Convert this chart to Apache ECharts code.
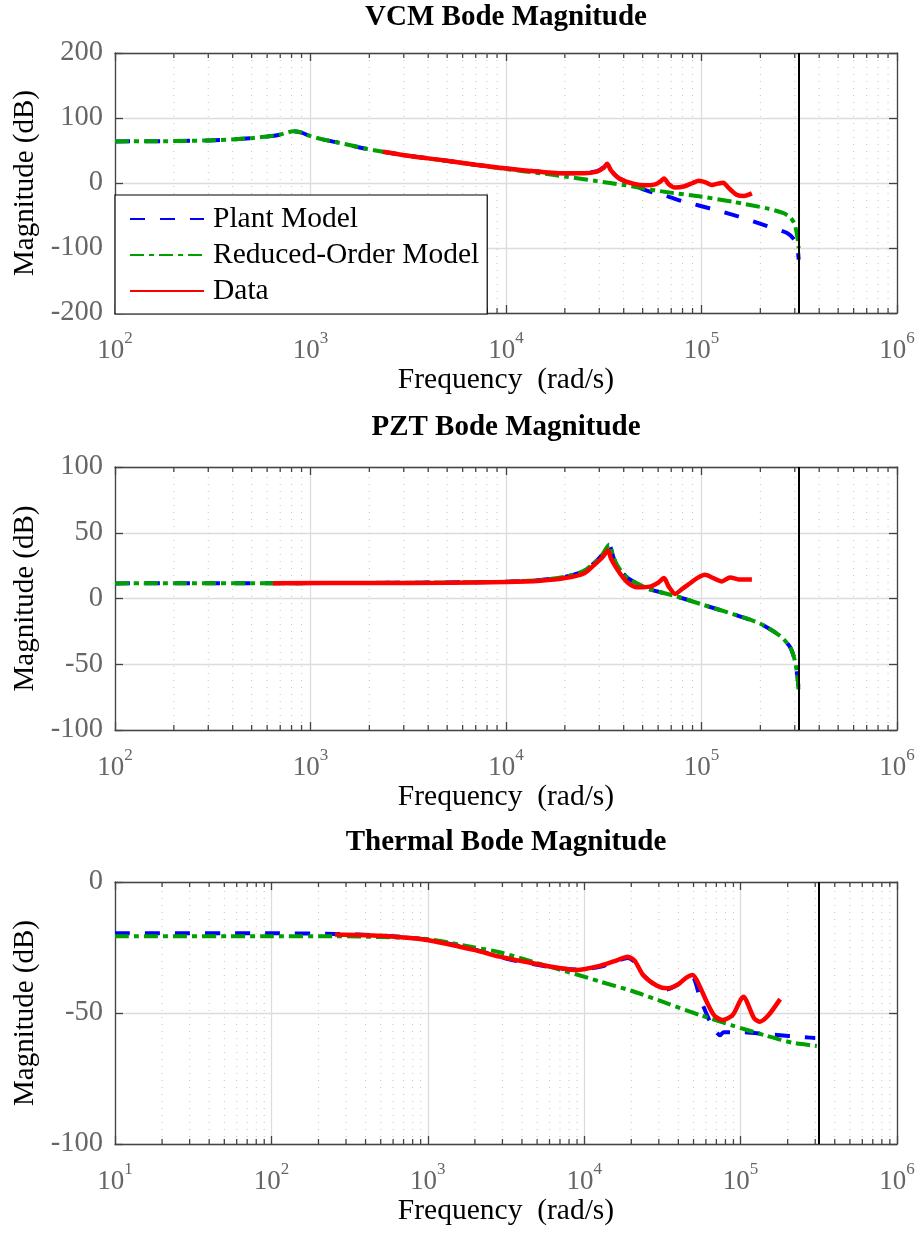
<!DOCTYPE html>
<html>
<head>
<meta charset="utf-8">
<title>Bode Magnitude</title>
<script src="https://cdn.jsdelivr.net/npm/echarts@6.0.0/dist/echarts.min.js"></script>
<style>
  html, body { margin: 0; padding: 0; background: #fff; }
  #chart { width: 920px; height: 1235px; }
</style>
</head>
<body>
<div id="chart"></div>
<script>
// points are [frequency (rad/s), magnitude (dB)]
const vcmPlant = [[100,64],[200,64.5],[300,65.5],[400,67],[500,69],[600,71.5],[700,74.5],[820,79.5],[900,77.5],[1000,72],[1200,66],[1500,60],[1900,53],[2350,48],[3300,41],[4760,35],[7000,28],[9300,23.5],[13000,19],[19600,15],[25000,15.5],[29200,18],[31500,24],[32900,30],[34500,19],[38000,7],[44700,-2],[49600,-9],[57000,-15],[66000,-20],[80000,-28],[98000,-35],[120000,-42],[145000,-49],[184000,-59],[230000,-69],[274000,-77],[300000,-88],[310000,-100],[314000,-118]];
const vcmReduced = [[100,64],[200,64.5],[300,65.5],[400,67],[500,69],[600,71.5],[700,74.5],[820,79.5],[900,77.5],[1000,72],[1200,66],[1500,60],[1900,53],[2350,48],[3300,41],[4760,35],[7000,28],[10000,21.5],[15000,15],[20000,10],[29000,3],[40000,-3],[50000,-8],[66000,-14],[100000,-21],[145000,-29],[216000,-39],[261000,-46],[285000,-53],[298000,-62],[306000,-75],[311000,-88],[314000,-100]];
const vcmData = [[2350,48],[3300,41],[4760,35],[7000,28],[9300,23.5],[13000,19],[19600,15],[25000,15],[29200,17.5],[31500,23],[32900,29.5],[34500,19],[38000,7],[44700,-1],[52000,-3.5],[58000,-2],[62000,3],[64300,7],[68000,-2],[73200,-7],[82000,-5],[90000,0],[97000,3.5],[105000,1],[113000,-3],[121000,-1],[129000,0.5],[138000,-8],[151000,-18],[165000,-20],[181000,-16]];

const pztPlant = [[100,11.5],[1000,11.7],[5000,12.2],[10000,12.8],[15000,14],[20400,16.7],[25000,21],[28000,26.5],[31000,33],[33700,41],[35500,31],[38300,22],[42000,15.5],[46800,11.5],[54500,7],[73000,2],[98000,-4],[146000,-12],[199000,-19],[250000,-28],[284000,-37],[300000,-47],[310000,-60],[314000,-72]];
const pztReduced = [[100,11.5],[1000,11.7],[5000,12.2],[10000,12.8],[15000,14],[20400,16.7],[25000,21],[28000,26.5],[31000,33],[33700,41],[35500,31],[38300,22],[42000,15.5],[46800,11.5],[54500,7],[73000,2],[98000,-4],[146000,-12],[199000,-19],[250000,-28],[284000,-37],[300000,-47],[310000,-60],[314000,-72]];
const pztData = [[643,11.6],[2000,11.8],[5000,12],[10000,12.5],[15000,13.5],[20400,15.7],[25000,19],[28000,25],[31000,31],[33300,36.5],[34500,30],[38300,19],[42000,12],[46800,8.5],[54500,9],[60000,12],[64300,15.5],[68000,9],[73300,3.5],[80000,7.5],[87000,11.4],[95000,15.5],[104000,18],[115000,15.5],[127000,13],[140000,16],[155000,14.5],[181000,14.4]];

const thermPlant = [[10,-19.6],[100,-19.6],[255,-19.8],[500,-20.4],[1000,-22],[2000,-25.8],[3350,-29.6],[4700,-31.3],[6500,-32.8],[9000,-33.4],[12600,-32.4],[16000,-30.3],[19000,-29],[21000,-30.5],[23800,-35.5],[29000,-39.8],[33900,-41],[40000,-39],[44000,-37],[49400,-36.5],[55000,-44.3],[63700,-53.3],[70000,-57.3],[74000,-58.5],[78000,-57.3],[100000,-57.3],[147000,-58.1],[278000,-59.4],[300000,-59.5]];
const thermReduced = [[10,-20.7],[100,-20.7],[255,-20.7],[500,-21],[1000,-21.8],[2000,-25],[2880,-26.8],[4700,-30.5],[8950,-35.3],[12600,-38],[20000,-41.5],[33900,-46.3],[55000,-50.8],[89000,-54.8],[147000,-58.7],[217000,-61.4],[307000,-62.6]];
const thermData = [[255,-20],[500,-20.5],[984,-22.1],[2000,-26],[2880,-28.5],[4700,-31],[8950,-33.6],[12600,-32],[16000,-30],[19000,-28.5],[21000,-30],[23800,-35.5],[29000,-39.5],[33900,-40.6],[40000,-39],[45000,-36.5],[49400,-35.5],[54000,-39],[60700,-45.7],[68000,-51],[76900,-52.7],[89000,-50.8],[100000,-45],[105000,-43.8],[112000,-47],[122000,-52],[133000,-53.3],[150000,-51],[179000,-44.7]];

const panelTitles = ['VCM Bode Magnitude', 'PZT Bode Magnitude', 'Thermal Bode Magnitude'];
const legendNames = ['Plant Model', 'Reduced-Order Model', 'Data'];
const xRanges = [[1e2, 1e6], [1e2, 1e6], [1e1, 1e6]];
const yRanges = [[-200, 200, 100], [-100, 100, 50], [-100, 0, 50]];
const nyquist = 314159; // rad/s, black vertical line
const minorMultipliers = [2, 3, 4, 5, 6, 7, 8, 9];

const panels = [
  { plant: vcmPlant, reduced: vcmReduced, data: vcmData },
  { plant: pztPlant, reduced: pztReduced, data: pztData },
  { plant: thermPlant, reduced: thermReduced, data: thermData }
];

const FONT = '"Liberation Serif", "Times New Roman", serif';
const AXIS_COLOR = '#444';
const LABEL_COLOR = '#666';
const gridBoxes = [
  { left: 115, right: 23, top: 53, height: 260 },
  { left: 115, right: 23, top: 467, height: 263 },
  { left: 115, right: 23, top: 882, height: 262 }
];
const titleTops = [3, 413, 828];

function minorTicks(range) {
  const out = [];
  for (let e = Math.round(Math.log10(range[0])); e < Math.round(Math.log10(range[1])); e++) {
    minorMultipliers.forEach(m => out.push(m * Math.pow(10, e)));
  }
  return out;
}

// dotted minor grid line plus the small inward ticks on the top and bottom edges
function minorRenderer(yMin, yMax) {
  return function (params, api) {
    const x = api.value(0);
    const b = api.coord([x, yMin]);
    const t = api.coord([x, yMax]);
    return {
      type: 'group',
      children: [
        { type: 'line', shape: { x1: b[0], y1: b[1], x2: t[0], y2: t[1] },
          style: { stroke: '#c4c4c4', lineWidth: 1, lineDash: [1, 6] } },
        { type: 'line', shape: { x1: b[0], y1: b[1], x2: b[0], y2: b[1] - 5 },
          style: { stroke: AXIS_COLOR, lineWidth: 1.3 } },
        { type: 'line', shape: { x1: t[0], y1: t[1], x2: t[0], y2: t[1] + 5 },
          style: { stroke: AXIS_COLOR, lineWidth: 1.3 } }
      ]
    };
  };
}

const supRich = {
  b: { fontFamily: FONT, fontSize: 27, color: LABEL_COLOR, lineHeight: 34, verticalAlign: 'bottom' },
  s: { fontFamily: FONT, fontSize: 17, color: LABEL_COLOR, lineHeight: 14, verticalAlign: 'top' }
};

const boxLine = { show: true, onZero: false, lineStyle: { color: AXIS_COLOR, width: 1.3 } };
const boxTick = { show: true, inside: true, length: 8, lineStyle: { color: AXIS_COLOR, width: 1.3 } };

const grid = [], xAxis = [], yAxis = [], series = [], title = [];

panels.forEach((p, i) => {
  const xr = xRanges[i], yr = yRanges[i];
  grid.push(gridBoxes[i]);
  title.push({
    text: panelTitles[i],
    left: 506, textAlign: 'center',
    top: titleTops[i],
    padding: 0,
    textStyle: { fontFamily: FONT, fontSize: 29, fontWeight: 'bold', color: '#000' }
  });

  xAxis.push({
    gridIndex: i, type: 'log', logBase: 10, min: xr[0], max: xr[1], position: 'bottom',
    name: 'Frequency  (rad/s)', nameLocation: 'middle', nameGap: 52,
    nameTextStyle: { fontFamily: FONT, fontSize: 29.5, color: '#000' },
    axisLine: boxLine,
    axisTick: boxTick,
    axisLabel: {
      margin: 17,
      formatter: v => '{b|10}{s|' + Math.round(Math.log10(v)) + '}',
      rich: supRich
    },
    splitLine: { show: true, lineStyle: { color: '#dcdcdc', width: 1.3 } }
  });
  xAxis.push({
    gridIndex: i, type: 'log', logBase: 10, min: xr[0], max: xr[1], position: 'top',
    axisLine: boxLine,
    axisTick: boxTick,
    axisLabel: { show: false },
    splitLine: { show: false }
  });

  yAxis.push({
    gridIndex: i, type: 'value', min: yr[0], max: yr[1], interval: yr[2], position: 'left',
    name: 'Magnitude (dB)', nameLocation: 'middle', nameGap: 74,
    nameTextStyle: { fontFamily: FONT, fontSize: 29, color: '#000' },
    axisLine: boxLine,
    axisTick: boxTick,
    axisLabel: { margin: 12, fontFamily: FONT, fontSize: 28.5, color: LABEL_COLOR },
    splitLine: { show: true, lineStyle: { color: '#dcdcdc', width: 1.3 } }
  });
  yAxis.push({
    gridIndex: i, type: 'value', min: yr[0], max: yr[1], interval: yr[2], position: 'right',
    axisLine: boxLine,
    axisTick: boxTick,
    axisLabel: { show: false },
    splitLine: { show: false }
  });

  const xi = i * 2, yi = i * 2;

  series.push({
    type: 'custom', name: 'minor' + i, xAxisIndex: xi, yAxisIndex: yi, z: 1, silent: true,
    renderItem: minorRenderer(yr[0], yr[1]),
    data: minorTicks(xr).map(v => [v, yr[0]])
  });
  series.push({
    type: 'line', name: legendNames[0], xAxisIndex: xi, yAxisIndex: yi, data: p.plant,
    symbol: 'none', smooth: 0.25, z: 2,
    lineStyle: { color: '#0000ff', width: 4, type: [15, 15], cap: 'butt' },
    itemStyle: { color: '#0000ff' }
  });
  series.push({
    type: 'line', name: legendNames[1], xAxisIndex: xi, yAxisIndex: yi, data: p.reduced,
    symbol: 'none', smooth: 0.25, z: 3,
    lineStyle: { color: '#00a000', width: 4, type: [14, 5, 5, 5], cap: 'butt' },
    itemStyle: { color: '#00a000' }
  });
  series.push({
    type: 'line', name: legendNames[2], xAxisIndex: xi, yAxisIndex: yi, data: p.data,
    symbol: 'none', smooth: 0.25, z: 4,
    lineStyle: { color: '#ff0000', width: 4.5 },
    itemStyle: { color: '#ff0000' },
    markLine: {
      silent: true, symbol: ['none', 'none'], label: { show: false },
      lineStyle: { color: '#000', width: 2, type: 'solid' },
      data: [{ xAxis: nyquist }]
    }
  });
});

const chart = echarts.init(document.getElementById('chart'), null, { renderer: 'canvas' });
chart.setOption({
  animation: false,
  backgroundColor: '#fff',
  title: title,
  grid: grid,
  xAxis: xAxis,
  yAxis: yAxis,
  legend: {
    data: legendNames,
    orient: 'vertical',
    left: 115, top: 195,
    padding: [9, 8, 8, 14],
    itemWidth: 74, itemHeight: 12, itemGap: 6,
    backgroundColor: '#fff', borderColor: '#000', borderWidth: 1.2, borderRadius: 0,
    selectedMode: false,
    itemStyle: { opacity: 0 },
    lineStyle: { width: 2 },
    textStyle: { fontFamily: FONT, fontSize: 29.5, color: '#000', lineHeight: 30, padding: [0, 0, 0, 4] }
  },
  series: series
});
</script>
</body>
</html>
